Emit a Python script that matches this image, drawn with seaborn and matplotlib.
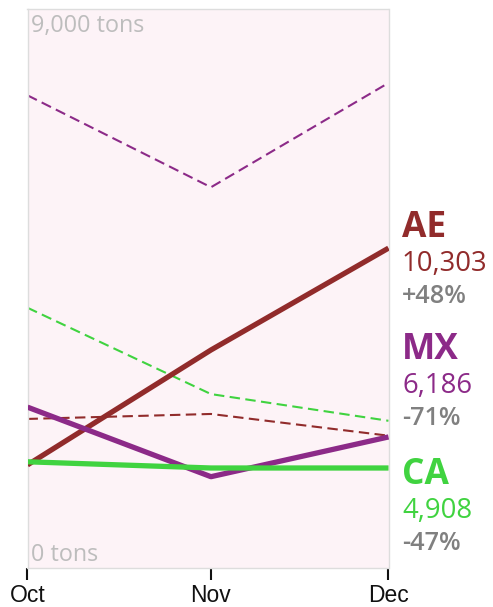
import matplotlib
matplotlib.use("Agg")
import matplotlib.pyplot as plt
import seaborn as sns
import pandas as pd

months = ["Oct", "Nov", "Dec"]
month_dates = ["2023-10-01", "2023-11-01", "2023-12-01"]
codes = ["AE", "MX", "CA"]
colors = ["#912b2b", "#8c2a88", "#40d340"]
current = {
    "AE": [1660, 3510, 5150],
    "MX": [2590, 1470, 2110],
    "CA": [1710, 1610, 1610],
}
previous = {
    "AE": [2400, 2480, 2130],
    "MX": [7610, 6130, 7810],
    "CA": [4190, 2800, 2370],
}
latest_labels = ["10,303", "6,186", "4,908"]
change_labels = ["+48%", "-71%", "-47%"]
y_labels = ["0 tons", "9,000 tons"]
y_max = 9000

dates = pd.to_datetime(month_dates)
rows = []
for c in codes:
    for d, v in zip(dates, current[c]):
        rows.append({"date": d, "value": v, "country": c, "period": "current"})
    for d, v in zip(dates, previous[c]):
        rows.append({"date": d, "value": v, "country": c, "period": "previous"})
df = pd.DataFrame(rows)

sns.set_style("white")
plt.rcParams["font.family"] = ["Open Sans", "DejaVu Sans"]

W, H = 493, 607
fig = plt.figure(figsize=(W / 100, H / 100), dpi=100)
ax = fig.add_axes([27.5 / W, 1 - 568 / H, (388.5 - 27.5) / W, (568 - 9) / H])
ax.set_facecolor("#fdf3f7")

palette = dict(zip(codes, colors))
for c in codes:
    d = df[(df.country == c) & (df.period == "previous")]
    sns.lineplot(data=d, x="date", y="value", color=palette[c], lw=1.5,
                 ax=ax, linestyle=(0, (5, 2.6)), zorder=2)
for c in codes:
    d = df[(df.country == c) & (df.period == "current")]
    sns.lineplot(data=d, x="date", y="value", color=palette[c], lw=3.8,
                 ax=ax, zorder=3, solid_capstyle="butt")

ax.set_xlim(dates[0], dates[-1])
ax.set_ylim(0, y_max)
ax.set_xlabel("")
ax.set_ylabel("")
ax.set_yticks([])
ax.set_xticks(dates)
ax.set_xticklabels(months, fontfamily="Liberation Sans", fontsize=16.5, color="#111111")
ax.tick_params(axis="x", bottom=True, length=8.5, width=1.5, color="#111111", pad=3,
               direction="out")
for s in ax.spines.values():
    s.set_color("#dddddd")
    s.set_linewidth(1)

def px(x, y):
    return x / W, 1 - y / H

fig.text(*px(31, 561), y_labels[0], fontsize=16.8, color="#bdbdbd", va="baseline", ha="left")
fig.text(*px(31, 32), y_labels[1], fontsize=16.8, color="#bdbdbd", va="baseline", ha="left")

name_base = [237, 359, 484]
for c, col, nb, val, ch in zip(codes, colors, name_base, latest_labels, change_labels):
    fig.text(*px(402, nb), c, fontsize=25.5, fontweight="bold", color=col, va="baseline", ha="left")
    fig.text(*px(402, nb + 34), val, fontsize=19.8, color=col, va="baseline", ha="left")
    fig.text(*px(402, nb + 66), ch, fontsize=18.2, fontweight="semibold", color="#808080",
             va="baseline", ha="left")

fig.savefig("out.png", dpi=100)
